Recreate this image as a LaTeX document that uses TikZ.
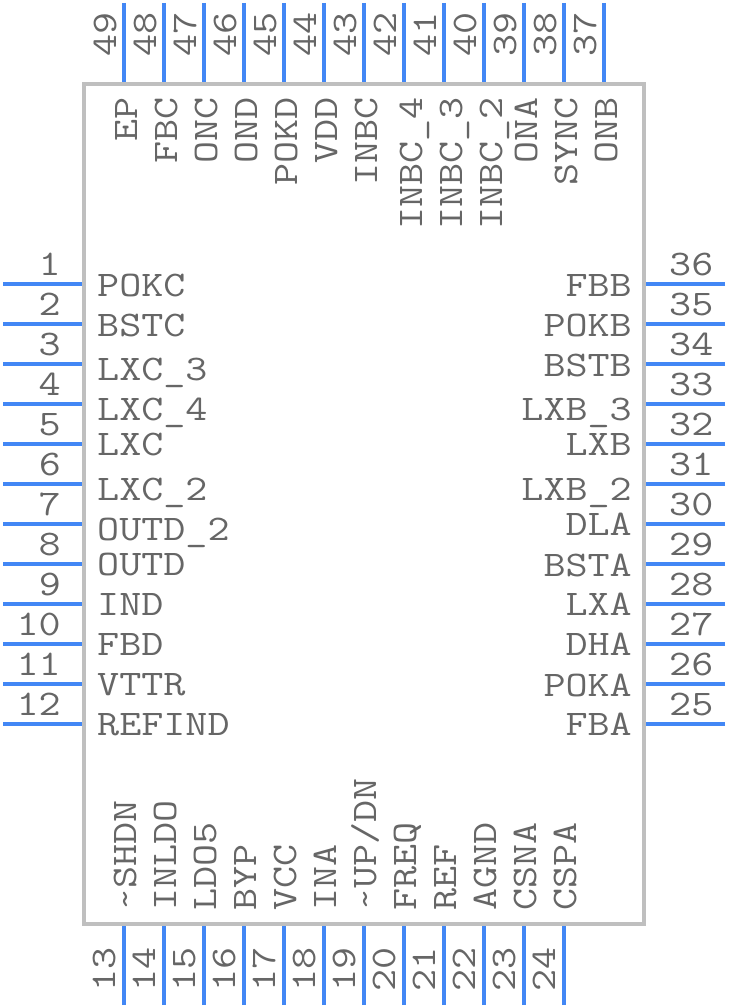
\documentclass[tikz,border=0pt]{standalone}
\usepackage{xcolor}
\usepackage{fontspec}
\setmainfont[FakeStretch=1.19]{Latin Modern Mono}
\definecolor{pinblue}{RGB}{66, 135, 245}
\definecolor{bodygray}{RGB}{191, 191, 191}
\definecolor{textgray}{RGB}{102, 102, 102}
\tikzset{
  chipbody/.style={draw=bodygray, line width=4pt, minimum width=560pt, minimum height=840pt, inner sep=0pt},
  pinline/.style={pinblue, line width=4pt},
  pintext/.style={textgray, inner sep=0pt, font=\fontsize{36}{36}\selectfont}
}
\begin{document}
\begin{tikzpicture}[x=1pt, y=-1pt]
    \useasboundingbox (0,0) rectangle (728,1008);
    % chip body
    \node[chipbody] (chip) at (364,504) {};

    % left side
    \foreach \n/\t/\b in {1/POKC/296, 2/BSTC/336, 3/LXC\_3/380, 4/LXC\_4/420, 5/LXC/455, 6/LXC\_2/500,
                          7/OUTD\_2/540, 8/OUTD/575, 9/IND/615, 10/FBD/655, 11/VTTR/695, 12/REFIND/735} {
        \pgfmathsetmacro{\py}{244+40*\n}
        \coordinate (pinout\n) at (3,\py);
        \coordinate (pinin\n) at (82,\py);
        \draw[pinline] (pinout\n) -- (pinin\n);
        \node[pintext, anchor=base east] (num\n) at (61,\py-9) {\n};
        \node[pintext, anchor=base west] (name\n) at (97,\b) {\t};
    }

    % right side
    \foreach \n/\t/\b in {25/FBA/735, 26/POKA/696, 27/DHA/655, 28/LXA/615, 29/BSTA/576, 30/DLA/535,
                          31/LXB\_2/500, 32/LXB/455, 33/LXB\_3/420, 34/BSTB/376, 35/POKB/336, 36/FBB/296} {
        \pgfmathsetmacro{\py}{724-40*(\n-25)}
        \coordinate (pinout\n) at (725,\py);
        \coordinate (pinin\n) at (646,\py);
        \draw[pinline] (pinout\n) -- (pinin\n);
        \node[pintext, anchor=base west] (num\n) at (669,\py-9) {\n};
        \node[pintext, anchor=base east] (name\n) at (632,\b) {\t};
    }

    % bottom side
    \foreach \n/\t/\d in {13/\textasciitilde SHDN/12, 14/INLDO/12, 15/LDO5/12, 16/BYP/12, 17/VCC/12, 18/INA/12,
                          19/{\textasciitilde UP/DN}/12, 20/FREQ/12, 21/REF/12, 22/AGND/12, 23/CSNA/12, 24/CSPA/12} {
        \pgfmathsetmacro{\px}{124+40*(\n-13)}
        \coordinate (pinout\n) at (\px,1005);
        \coordinate (pinin\n) at (\px,926);
        \draw[pinline] (pinout\n) -- (pinin\n);
        \node[pintext, rotate=90, anchor=base west] (num\n) at (\px-9,992) {\n};
        \node[pintext, rotate=90, anchor=base west] (name\n) at (\px+\d,911) {\t};
    }

    % top side
    \foreach \n/\t/\d in {37/ONB/13, 38/SYNC/13, 39/ONA/13, 40/INBC\_2/18, 41/INBC\_3/18, 42/INBC\_4/18,
                          43/INBC/13, 44/VDD/13, 45/POKD/13, 46/OND/13, 47/ONC/13, 48/FBC/13, 49/EP/13} {
        \pgfmathsetmacro{\px}{604-40*(\n-37)}
        \coordinate (pinout\n) at (\px,3);
        \coordinate (pinin\n) at (\px,82);
        \draw[pinline] (pinout\n) -- (pinin\n);
        \node[pintext, rotate=90, anchor=base west] (num\n) at (\px-8,57) {\n};
        \node[pintext, rotate=90, anchor=base east] (name\n) at (\px+\d,97) {\t};
    }
\end{tikzpicture}
\end{document}
